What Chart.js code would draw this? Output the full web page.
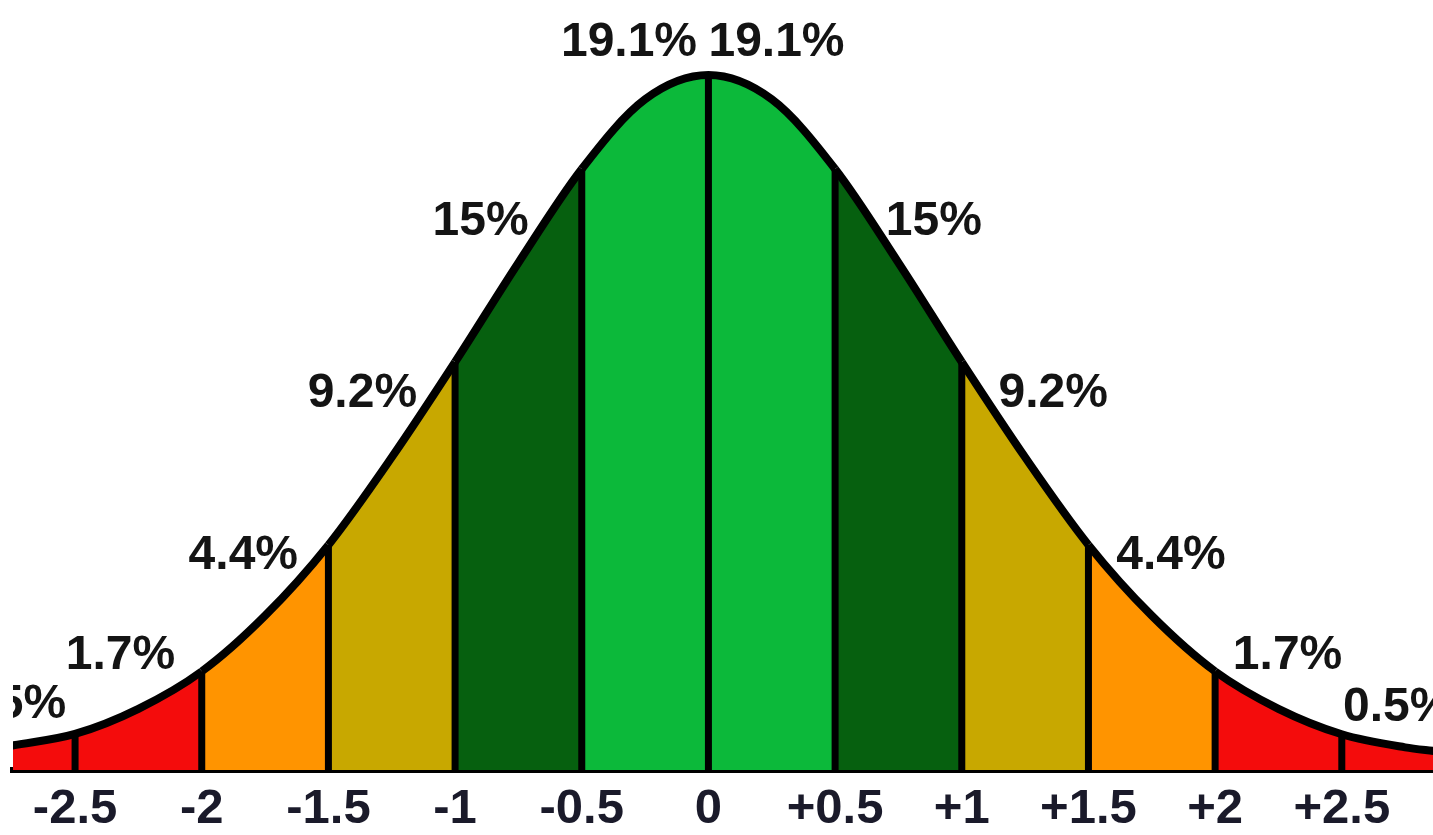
<!DOCTYPE html>
<html><head><meta charset="utf-8">
<script src="https://cdn.jsdelivr.net/npm/chart.js@4.4.1/dist/chart.umd.min.js"></script>
<style>html,body{margin:0;padding:0;background:#fff;}#wrap{width:1433px;height:835px;position:relative;}</style>
</head><body><div id="wrap"><canvas id="c"></canvas></div>
<script>
// ---- data ----
const sdPoints      = [-2.75,-2.5,-2.25,-2,-1.75,-1.5,-1.25,-1,-0.75,-0.5,-0.25,0,0.25,0.5,0.75,1,1.25,1.5,1.75,2,2.25,2.5,2.75,2.87];
const curveHeights  = [0.0140,0.0207,0.0351,0.0566,0.0886,0.1292,0.1795,0.2342,0.2912,0.3450,0.3850,0.3989,0.3850,0.3450,0.2912,0.2342,0.1795,0.1292,0.0886,0.0566,0.0351,0.0205,0.0130,0.0108];
const boundaries    = [-2.5,-2,-1.5,-1,-0.5,0,0.5,1,1.5,2,2.5];
const tickValues    = [-2.5,-2,-1.5,-1,-0.5,0,0.5,1,1.5,2,2.5];
const tickLabels    = ['-2.5','-2','-1.5','-1','-0.5','0','+0.5','+1','+1.5','+2','+2.5'];
const bandLabels    = ['0.5%','1.7%','4.4%','9.2%','15%','19.1%','19.1%','15%','9.2%','4.4%','1.7%','0.5%'];

// ---- styling / layout ----
const bandLimits = [0.5, 1, 1.5, 2];
const bandColors = ['#0cb93a', '#06600f', '#c8a800', '#ff9400', '#f40c0c'];
function bandColor(x){ const a = Math.abs(x); for (let i=0;i<bandLimits.length;i++){ if (a < bandLimits[i]) return bandColors[i]; } return bandColors[bandLimits.length]; }
// label anchor: text edge x (SD units), vertical centre (density units), side
const labelEdgeX = [-2.535,-2.105,-1.62,-1.15,-0.71,-0.045, 0.0,0.70,1.145,1.61,2.07,2.505];
const labelMidY  = [0.040,0.068,0.125,0.218,0.317,0.420, 0.420,0.317,0.218,0.125,0.068,0.038];
const labelAlign = ['right','right','right','right','right','right','left','left','left','left','left','left'];
const FONT = 'bold 48px "Liberation Sans", Arial, sans-serif';

const curveData = sdPoints.map((x,i)=>({x, y: curveHeights[i]}));
const boundaryDatasets = boundaries.map(b => {
  const i = sdPoints.indexOf(b);
  return { type:'line', data:[{x:b,y:0},{x:b,y:curveHeights[i]}], borderColor:'#000', borderWidth:7,
           pointRadius:0, fill:false, tension:0, borderCapStyle:'butt' };
});

const labelPlugin = {
  id:'bandLabels',
  afterDraw(chart){
    const {ctx, scales:{x, y}, chartArea} = chart;
    ctx.save();
    ctx.beginPath(); ctx.rect(chartArea.left, 0, chart.width - chartArea.left, chart.height); ctx.clip();
    ctx.font = FONT; ctx.fillStyle = '#141414'; ctx.textBaseline = 'alphabetic';
    bandLabels.forEach((t,i)=>{
      ctx.textAlign = labelAlign[i];
      ctx.fillText(t, x.getPixelForValue(labelEdgeX[i]), y.getPixelForValue(labelMidY[i]) + 0.358*48);
    });
    ctx.restore();
  }
};

new Chart(document.getElementById('c'), {
  type:'line',
  data:{ datasets:[
    { data: curveData, borderColor:'#000', borderWidth:8, pointRadius:0, fill:'origin',
      cubicInterpolationMode:'monotone', backgroundColor:'#0cb93a',
      segment:{ backgroundColor: ctx => bandColor((ctx.p0.parsed.x + ctx.p1.parsed.x)/2) } },
    ...boundaryDatasets
  ]},
  options:{
    responsive:true, maintainAspectRatio:false, animation:false,
    layout:{ padding:{ left:13, right:0, top:0, bottom:0 } },
    plugins:{ legend:{display:false}, tooltip:{enabled:false}, filler:{ drawTime:'beforeDatasetsDraw' } },
    scales:{
      x:{ type:'linear', min:-2.745, max:2.86, z:1,
          grid:{ display:false, drawTicks:false },
          border:{ display:true, color:'#000', width:6 },
          afterBuildTicks: s => { s.ticks = tickValues.map(v=>({value:v})); },
          afterFit: s => { s.height = 65; },
          ticks:{ autoSkip:false, maxRotation:0, padding:10, color:'#1a1a2a',
                  font:{ family:'"Liberation Sans", Arial, sans-serif', size:49, weight:'bold' },
                  callback:(v, i) => tickLabels[i] } },
      y:{ display:false, min:0, max:0.442 }
    }
  },
  plugins:[labelPlugin]
});
</script></body></html>
